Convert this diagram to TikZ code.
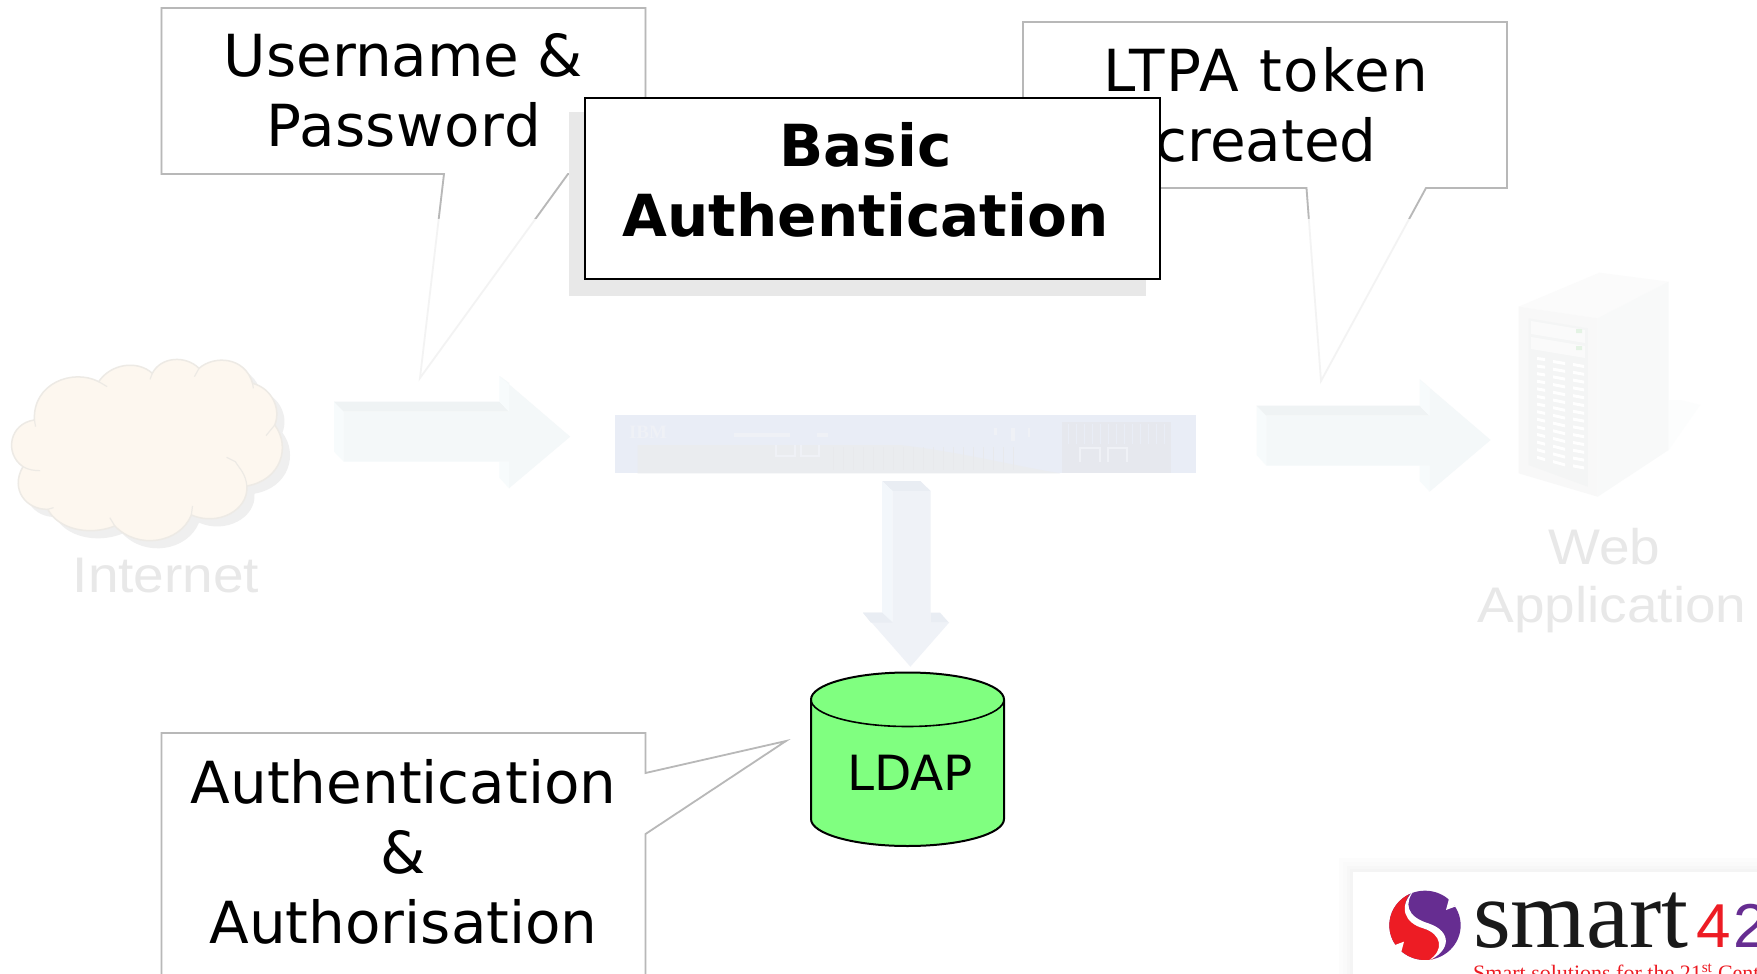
\documentclass[tikz,border=0pt]{standalone}
\usepackage{graphicx}
\usepackage{fontspec}
\setmainfont{DejaVu Sans}
\newfontfamily\arialf{Liberation Sans}
\newfontfamily\timesf{Liberation Serif}
\definecolor{calloutgray}{HTML}{B8B8B8}
\definecolor{calloutfade}{HTML}{F3F3F3}
\definecolor{shadowgray}{HTML}{E8E8E8}
\definecolor{ldapgreen}{HTML}{80FF80}
\definecolor{fadedtext}{HTML}{E8E8E8}
\definecolor{cloudfill}{HTML}{FDF7EF}
\definecolor{cloudline}{HTML}{EDEAE5}
\definecolor{logored}{HTML}{ED1C24}
\definecolor{logopurple}{HTML}{662D91}
\newcommand{\hx}[1]{\definecolor{#1}{HTML}{#1}}
\hx{EFEFEF}\hx{F7FBFC}\hx{EFF3F4}\hx{F4F8F9}\hx{E9EDF3}\hx{F3F7FB}\hx{EFF2F7}\hx{E9EDF6}\hx{EAECEF}\hx{E6E8EE}\hx{EFF1F6}\hx{FBFBFB}\hx{F8F9F9}\hx{FCFDFD}\hx{F8F8F8}\hx{F4F5F5}\hx{FAFAFA}\hx{E4F3E4}\hx{FCFCFC}\hx{F7F7F7}\hx{F4F4F4}\hx{E8E9EC}
\newcommand{\widen}[1]{\scalebox{1.1}[1]{#1}}
\newcommand{\cloudpath}{(258,125) .. controls (290,70) and (360,60) .. (398,100)
 .. controls (420,50) and (485,45) .. (520,85)
 .. controls (560,45) and (640,50) .. (660,130)
 .. controls (710,145) and (735,205) .. (718,255)
 .. controls (760,320) and (735,420) .. (645,438)
 .. controls (650,510) and (570,560) .. (500,525)
 .. controls (470,610) and (360,630) .. (300,558)
 .. controls (230,590) and (150,565) .. (125,508)
 .. controls (70,510) and (25,450) .. (60,380)
 .. controls (10,340) and (25,250) .. (90,240)
 .. controls (85,130) and (190,85) .. (258,125) -- cycle}
\tikzset{
  x=1pt,y=-1pt,
  bubble/.style={draw=calloutgray,line width=1.8pt,fill=white,line join=miter},
  bubbletext/.style={font=\fontsize{58}{70}\selectfont,align=center,inner sep=0pt,anchor=base,text=black},
  titletext/.style={font=\fontsize{58}{70}\selectfont\bfseries,align=center,inner sep=0pt,anchor=base,text=black},
  fadelabel/.style={font=\arialf\fontsize{50}{58}\selectfont,align=center,inner sep=0pt,anchor=base,text=fadedtext},
  cloudbody/.style={fill=cloudfill,draw=cloudline,line width=1.5pt},
  cloudcrease/.style={draw=cloudline,line width=1.2pt},
}
\begin{document}
\begin{tikzpicture}
\useasboundingbox (0,0) rectangle (1757,974);
\clip (0,0) rectangle (1757,974);
\fill[white] (0,0) rectangle (1757,974);

% --- cloud
\begin{scope}[shift={(0,340)},x=0.3827pt,y=-0.3333pt]
  \fill[EFEFEF,shift={(20,23)}] \cloudpath;
\end{scope}
\begin{scope}[shift={(0,340)},x=0.3827pt,y=-0.3333pt]
  \path[cloudbody] \cloudpath;
  \draw[cloudcrease] (258,125) -- (280,140) (398,100) -- (392,118) (520,85) -- (508,110)
    (660,130) -- (662,145) (718,255) -- (695,287)
    (645,438) .. controls (642,400) and (625,385) .. (615,365) -- (592,352)
    (500,525) -- (503,498) (300,558) -- (287,533) (125,508) -- (140,503)
    (60,380) .. controls (75,390) and (90,392) .. (105,392) (90,240) -- (93,260);
\end{scope}
\node[fadelabel] (internet) at (166,592.7) {\widen{Internet}};

% --- arrow right 1
\fill[F7FBFC] (334,401.7) -- (343.7,411.7) -- (343.7,461.7) -- (334,451.7) -- cycle;
\fill[EFF3F4] (334,401.7) -- (499.4,401.7) -- (509,411.7) -- (343.7,411.7) -- cycle;
\fill[F7FBFC] (499.4,376) -- (509,383) -- (509,411.7) -- (499.4,401.7) -- cycle;
\fill[F7FBFC] (499.4,461.7) -- (509,461.7) -- (509,488.3) -- (499.4,477.7) -- cycle;
\fill[F4F8F9] (343.7,411.7) -- (509,411.7) -- (509,383) -- (499.4,376) -- (570.2,436.7) -- (509,488.3) -- (509,461.7) -- (343.7,461.7) -- cycle;

% --- arrow right 2
\fill[F7FBFC] (1256.5,405.7) -- (1266.4,415.7) -- (1266.4,465.7) -- (1256.5,455) -- cycle;
\fill[EFF3F4] (1256.5,405.7) -- (1419.7,405.7) -- (1429.6,415.7) -- (1266.4,415.7) -- cycle;
\fill[F7FBFC] (1419.7,379.3) -- (1429.6,388) -- (1429.6,415.7) -- (1419.7,405.7) -- cycle;
\fill[F7FBFC] (1419.7,465.7) -- (1429.6,465.7) -- (1429.6,491.7) -- (1419.7,481) -- cycle;
\fill[F4F8F9] (1266.4,415.7) -- (1429.6,415.7) -- (1429.6,388) -- (1419.7,379.3) -- (1490.6,440) -- (1429.6,491.7) -- (1429.6,465.7) -- (1266.4,465.7) -- cycle;

% --- arrow down
\fill[E9EDF3] (882,481) -- (920.3,481) -- (930.6,491) -- (892.6,491) -- cycle;
\fill[F3F7FB] (882,481) -- (892.6,491) -- (892.6,622) -- (882,612.7) -- cycle;
\fill[EFF2F7] (892.6,491) -- (930.6,491) -- (930.6,622.7) -- (949,622.7) -- (910.4,666.7) -- (863,612.7) -- (882,612.7) -- (892.6,622) -- cycle;
\fill[E9EDF3] (930.6,612.7) -- (940,612.7) -- (949,622.7) -- (930.6,622.7) -- cycle;
\fill[E9EDF3] (863,612.7) -- (882,612.7) -- (892.6,622.7) -- (871,622.7) -- cycle;

% --- appliance
\fill[E9EDF6] (615,415) rectangle (1196,473.3);
\fill[EAECEF] (637.6,445) -- (900,445) .. controls (960,452) and (1010,465) .. (1060,473.3) -- (637.6,473.3) -- cycle;
\fill[E6E8EE] (1062,422) rectangle (1171,473.3);
\foreach \k in {0,...,18}{\draw[E8E9EC,line width=1pt] ({833+\k*10},447) -- ({833+\k*10},470);}
\foreach \k in {0,...,12}{\draw[E9EDF6,line width=1pt] ({1068+\k*8},424) -- ({1068+\k*8},444);}
\draw[EFF1F6,line width=1.2pt] (776,445) -- (776,456) -- (795,456) -- (795,445) (801,445) -- (801,456) -- (819,456) -- (819,445);
\draw[EFF1F6,line width=1.2pt] (1080,462) -- (1080,448) -- (1100,448) -- (1100,462) (1108,462) -- (1108,448) -- (1127,448) -- (1127,462);
\fill[EFF1F6] (734,433) rectangle (790,437) (817,433) rectangle (828,437) (994,428) rectangle (997,435) (1011,428) rectangle (1015,441) (1028,428) rectangle (1030,437);
\node[font=\timesf\bfseries\fontsize{19}{19}\selectfont,text=EFF1F6,inner sep=0pt,anchor=base] (ibm) at (648,438) {IBM};

% --- server
\fill[FBFBFB] (1518.6,306.7) -- (1599.4,272.7) -- (1668.6,281.7) -- (1597.7,318.3) -- cycle;
\fill[F8F9F9] (1597.7,318.3) -- (1668.6,281.7) -- (1668.6,450) -- (1597.7,496.7) -- cycle;
\fill[FCFDFD] (1668.6,450) -- (1700,405) -- (1680,400) -- (1668.6,400) -- cycle;
\fill[F8F8F8] (1518.6,306.7) -- (1597.7,318.3) -- (1597.7,496.7) -- (1518.6,473.3) -- cycle;
\fill[F4F5F5] (1528.5,318.3) -- (1587.8,328.3) -- (1587.8,486.7) -- (1528.5,465) -- cycle;
\fill[FAFAFA] (1531,321) -- (1585,330) -- (1585,343) -- (1531,334) -- cycle;
\fill[FAFAFA] (1531,337) -- (1585,346) -- (1585,358) -- (1531,349) -- cycle;
\fill[E4F3E4] (1576,329) rectangle (1582,333) (1576,346) rectangle (1582,350);
\foreach \r in {0,...,13}{
  \fill[white] (1537,{357+\r*7.6}) -- (1545,{358+\r*7.7}) -- (1545,{361+\r*7.7}) -- (1537,{360+\r*7.6}) -- cycle;
  \fill[white] (1553,{360+\r*7.7}) -- (1565,{362+\r*7.8}) -- (1565,{365+\r*7.8}) -- (1553,{363+\r*7.7}) -- cycle;
  \fill[white] (1573,{363+\r*7.8}) -- (1584,{365+\r*7.8}) -- (1584,{368+\r*7.8}) -- (1573,{366+\r*7.8}) -- cycle;
}
\node[fadelabel] (webapp) at (1612,622.7) {\widen{Web~}\\\widen{Application}};

% --- callouts
\coordinate (t1) at (420,378);
\coordinate (t2) at (1321,381);
\coordinate (t3) at (786,741);
\path[bubble,draw=calloutfade] (161.5,8) -- (645.5,8) -- (645.5,174) -- (568,174) -- (t1) -- (444,174) -- (161.5,174) -- cycle;
\path[bubble,draw=calloutfade] (1023,22) -- (1507,22) -- (1507,188) -- (1426,188) -- (t2) -- (1306.5,188) -- (1023,188) -- cycle;
\begin{scope}
  \clip (0,0) rectangle (1757,218);
  \draw[calloutgray,line width=1.8pt] (161.5,8) -- (645.5,8) -- (645.5,174) -- (568,174) -- (t1) -- (444,174) -- (161.5,174) -- cycle;
  \draw[calloutgray,line width=1.8pt] (1023,22) -- (1507,22) -- (1507,188) -- (1426,188) -- (t2) -- (1306.5,188) -- (1023,188) -- cycle;
\end{scope}
\path[bubble] (161.5,733) -- (645.5,733) -- (645.5,773) -- (t3) -- (645.5,834) -- (645.5,1000) -- (161.5,1000) -- cycle;
\node[bubbletext] (user) at (403.5,146.5) {Username \&\\\addfontfeatures{LetterSpace=1}Password};
\node[bubbletext] (ltpa) at (1266,161.5) {\addfontfeatures{LetterSpace=3}LTPA token\\\addfontfeatures{LetterSpace=0}created};
\node[bubbletext] (authz) at (403.5,943) {Authentication\\\&\\Authorisation};

% --- title
\fill[shadowgray] (569,112) rectangle (1145.5,296);
\draw[black,line width=2pt,fill=white] (585,98) rectangle (1160,279);
\node[titletext] (title) at (865.5,236) {Basic\\Authentication};

% --- LDAP
\path[fill=ldapgreen,draw=black,line width=2pt] (811,699.5) -- (811,819) arc[start angle=180,end angle=0,x radius=96.5,y radius=27] -- (1004,699.5) arc[start angle=0,end angle=-180,x radius=96.5,y radius=27] -- cycle;
\draw[black,line width=1.6pt] (811,699.5) arc[start angle=180,end angle=0,x radius=96.5,y radius=27];
\node[inner sep=0pt,anchor=base,font=\fontsize{48.5}{54}\selectfont] (ldap) at (910,790) {LDAP};

% --- logo
\foreach \g/\d in {FCFCFC/14,FAFAFA/10,F7F7F7/6,F4F4F4/3}{
  \fill[\g] (1353-\d,872-\d) rectangle (1770,990);
}
\fill[white] (1353,872) rectangle (1770,990);
\begin{scope}[shift={(1340,860)},x=0.3333pt,y=-0.3333pt]
  \fill[logopurple] (255,196) ellipse[x radius=107,y radius=104];
  \begin{scope}
    \clip (255,196) ellipse[x radius=107,y radius=104];
    \fill[logored] (222,85) .. controls (170,140) and (200,190) .. (250,205) .. controls (310,225) and (315,270) .. (270,305) -- (100,305) -- (100,85) -- cycle;
    \fill[white] (225,88) .. controls (170,140) and (195,190) .. (250,205) .. controls (305,222) and (315,270) .. (265,302) .. controls (330,275) and (340,215) .. (265,190) .. controls (200,170) and (190,130) .. (225,88) -- cycle;
  \end{scope}
  \fill[white] (330,105) -- (318,150) -- (345,140) -- cycle;
  \fill[white] (180,290) -- (192,245) -- (165,255) -- cycle;
\end{scope}
\node[font=\timesf\fontsize{97}{97}\selectfont,text=black!90,inner sep=0pt,anchor=base west] (smart) at (1473,947) {smart};
\node[font=\arialf\fontsize{62}{62}\selectfont,text=logored,inner sep=0pt,anchor=base west] (four) at (1696,947) {4};
\node[font=\arialf\fontsize{62}{62}\selectfont,text=logopurple,inner sep=0pt,anchor=base west] (two) at (1733,947) {2};
\node[font=\timesf\fontsize{22}{22}\selectfont,text=logored,inner sep=0pt,anchor=base west] (tag) at (1473,980) {Smart solutions for the 21\textsuperscript{st} Century};
\end{tikzpicture}
\end{document}
